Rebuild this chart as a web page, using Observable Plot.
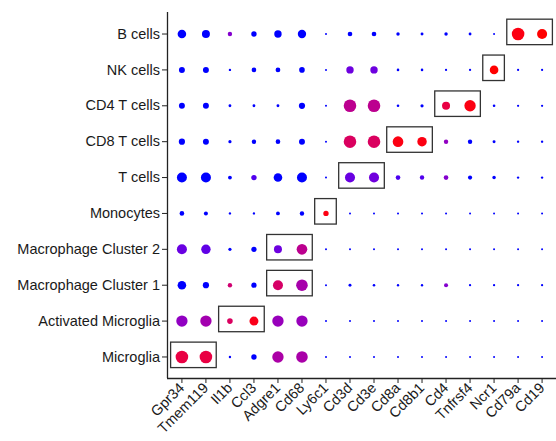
<!DOCTYPE html>
<html>
<head>
<meta charset="utf-8">
<script src="https://cdn.jsdelivr.net/npm/d3@7"></script>
<script src="https://cdn.jsdelivr.net/npm/@observablehq/plot@0.6"></script>
<style>
  html, body { margin: 0; padding: 0; background: #fff; }
</style>
</head>
<body>
<div id="chart"></div>
<script>
// Genes (x axis, left to right)
const genes = ["Gpr34","Tmem119","Il1b","Ccl3","Adgre1","Cd68","Ly6c1","Cd3d","Cd3e","Cd8a","Cd8b1","Cd4","Tnfrsf4","Ncr1","Cd79a","Cd19"];
// Cell types (y axis, bottom to top)
const cellTypes = ["Microglia","Activated Microglia","Macrophage Cluster 1","Macrophage Cluster 2","Monocytes","T cells","CD8 T cells","CD4 T cells","NK cells","B cells"];

// Percent of cells expressing (dot size), one row per cell type (same order as cellTypes)
const pctExpressed = [
  [88,88, 3,28,78,80, 0, 0, 0, 0, 0, 0, 0, 0, 0, 0],
  [78,78,30,58,78,78, 0, 0, 0, 0, 0, 0, 0, 0, 0, 0],
  [55,35,20,27,67,80, 0, 8, 5, 3, 3,17, 2, 2, 2, 2],
  [67,62,10,27,50,72, 0, 0, 0, 0, 0, 0, 0, 0, 0, 0],
  [22,17, 3, 3,15,20,28, 0, 0, 0, 0, 0, 0, 0, 0, 0],
  [67,67,15,28,55,67, 0,67,67,22,20,22,18,12, 3, 3],
  [35,33,10,20,22,33, 0,88,88,72,62,20,20, 8, 3, 3],
  [33,33, 7, 7, 7,35, 0,88,88, 5,10,50,78, 5, 2, 2],
  [33,33, 3,22,23,30, 0,45,45, 5, 5, 2, 2,55, 2, 2],
  [55,50,20,28,45,53, 0,22,22,12, 8,12, 7, 0,88,67]
];
// Scaled average expression (dot colour, 0 = low, 1 = high)
const avgExpression = [
  [0.80,0.80,0.00,0.00,0.37,0.36,0,0,0,0,0,0,0,0,0,0],
  [0.25,0.33,0.68,0.95,0.28,0.28,0,0,0,0,0,0,0,0,0,0],
  [0.00,0.00,0.60,0.00,0.65,0.35,0,0,0,0,0,0.20,0,0,0,0],
  [0.12,0.10,0.00,0.00,0.13,0.47,0,0,0,0,0,0,0,0,0,0],
  [0,0,0,0,0,0,0.97,0,0,0,0,0,0,0,0,0],
  [0,0,0,0.07,0,0,0,0.12,0.14,0.06,0.07,0.20,0,0,0,0],
  [0,0,0,0,0,0,0,0.68,0.68,0.97,0.97,0.25,0,0,0,0],
  [0,0,0,0,0,0,0,0.47,0.47,0,0,0.80,0.97,0,0,0],
  [0,0,0,0,0,0,0,0.13,0.13,0,0,0,0,1.00,0,0],
  [0,0,0.20,0,0,0,0,0,0,0,0,0,0,0,0.97,1.00]
];
// Marker-gene boxes: [cell type, first gene, last gene]
const markerBoxes = [
  ["Microglia","Gpr34","Tmem119"],
  ["Activated Microglia","Il1b","Ccl3"],
  ["Macrophage Cluster 1","Adgre1","Cd68"],
  ["Macrophage Cluster 2","Adgre1","Cd68"],
  ["Monocytes","Ly6c1","Ly6c1"],
  ["T cells","Cd3d","Cd3e"],
  ["CD8 T cells","Cd8a","Cd8b1"],
  ["CD4 T cells","Cd4","Tnfrsf4"],
  ["NK cells","Ncr1","Ncr1"],
  ["B cells","Cd79a","Cd19"]
];

const gx = g => genes.indexOf(g) + 1;
const cy = c => cellTypes.indexOf(c) + 1;

const cells = [];
cellTypes.forEach((c, i) => genes.forEach((g, j) => {
  cells.push({cell: c, gene: g, x: j + 1, y: i + 1, pct: pctExpressed[i][j], expr: avgExpression[i][j]});
}));
const boxes = markerBoxes.map(([c, g1, g2]) => ({
  x1: gx(g1) - 0.45, x2: gx(g2) + 0.45, y1: cy(c) - 0.31, y2: cy(c) + 0.40
}));

const chart = Plot.plot({
  width: 556,
  height: 441,
  marginLeft: 167,
  marginRight: 0,
  marginTop: 12,
  marginBottom: 63,
  style: {fontFamily: "'Liberation Sans', Arial, sans-serif", fontSize: "14.5px", color: "#1a1a1a", background: "#fff"},
  x: {type: "linear", domain: [0.4, genes.length + 0.6]},
  y: {type: "linear", domain: [0.4, cellTypes.length + 0.6]},
  r: {type: "linear", domain: [0, 100], range: [1, 7]},
  color: {type: "linear", domain: [0, 1], range: ["blue", "red"], interpolate: d3.interpolateLab},
  marks: [
    Plot.dot(cells, {x: "x", y: "y", r: "pct", fill: "expr", stroke: null}),
    Plot.rect(boxes, {x1: "x1", x2: "x2", y1: "y1", y2: "y2", fill: "none", stroke: "#333", strokeWidth: 1.3}),
    Plot.ruleX([0.4], {stroke: "#222", strokeWidth: 1.3}),
    Plot.ruleY([0.4], {stroke: "#222", strokeWidth: 1.3}),
    Plot.axisY({ticks: d3.range(1, cellTypes.length + 1), tickFormat: i => cellTypes[i - 1], tickSize: 5, tickPadding: 2.5, label: null, fontSize: 14.5, stroke: "#222"}),
    Plot.axisX({ticks: d3.range(1, genes.length + 1), tickFormat: i => genes[i - 1], tickSize: 5, tickPadding: 2, tickRotate: -45, label: null, fontSize: 14.5, stroke: "#222"})
  ]
});
document.getElementById("chart").appendChild(chart);
</script>
</body>
</html>
